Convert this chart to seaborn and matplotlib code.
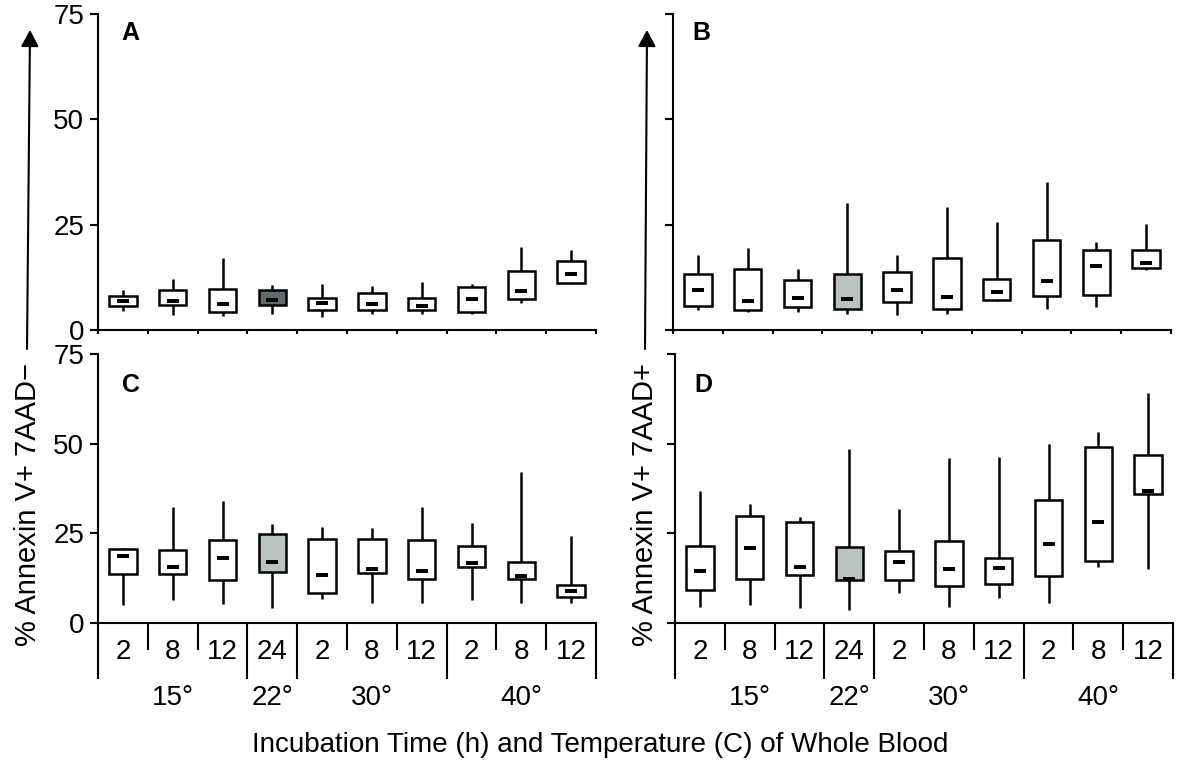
import numpy as np
import pandas as pd
import matplotlib
matplotlib.use("Agg")
import matplotlib.pyplot as plt
from matplotlib.patches import FancyArrowPatch
import seaborn as sns

# ------------------------------
# Data
# ------------------------------

hours = ["2", "8", "12", "24", "2", "8", "12", "2", "8", "12"]
temps = ["15°", "22°", "30°", "40°"]
temp_pos = [1, 3, 5, 8]          # centre category of each temperature group
long_bounds = [-0.5, 2.5, 3.5, 6.5, 9.5]
short_bounds = [0.5, 1.5, 4.5, 5.5, 7.5, 8.5]
conds = ["15/2", "15/8", "15/12", "22/24", "30/2", "30/8", "30/12", "40/2", "40/8", "40/12"]

# panel A
A_low = [4.6, 3.6, 3.3, 3.9, 3.0, 3.9, 3.8, 3.9, 6.3, 10.9]
A_q1 = [5.7, 5.9, 4.3, 5.9, 4.7, 4.7, 4.7, 4.3, 7.4, 11.2]
A_med = [6.9, 6.9, 6.2, 7.2, 6.3, 6.2, 5.7, 7.3, 9.2, 13.4]
A_q3 = [8.1, 9.5, 9.8, 9.5, 7.5, 8.9, 7.7, 10.1, 14.1, 16.3]
A_high = [9.6, 12.2, 17.2, 10.6, 10.9, 10.4, 11.4, 11.0, 19.7, 18.9]

# panel B
B_low = [4.7, 4.3, 4.3, 3.9, 3.6, 3.8, 6.8, 5.1, 5.5, 14.2]
B_q1 = [5.8, 4.7, 5.4, 5.0, 6.7, 5.0, 7.2, 8.1, 8.3, 14.6]
B_med = [9.6, 6.9, 7.7, 7.3, 9.5, 7.8, 9.0, 11.7, 15.2, 15.9]
B_q3 = [13.3, 14.4, 11.8, 13.3, 13.7, 17.1, 12.2, 21.3, 19.1, 19.1]
B_high = [17.8, 19.4, 14.4, 30.2, 17.8, 29.2, 25.6, 35.2, 21.0, 25.1]

# panel C
C_low = [5.0, 6.3, 5.3, 4.1, 6.7, 5.6, 5.7, 6.5, 5.7, 5.7]
C_q1 = [13.6, 13.6, 11.9, 14.3, 8.5, 13.9, 12.4, 15.7, 12.2, 7.3]
C_med = [18.7, 15.6, 18.1, 17.1, 13.4, 15.0, 14.5, 16.6, 13.0, 8.8]
C_q3 = [20.6, 20.4, 23.1, 24.7, 23.3, 23.5, 23.1, 21.4, 16.9, 10.7]
C_high = [21.0, 32.4, 34.1, 27.7, 26.9, 26.5, 32.4, 28.0, 42.1, 24.3]

# panel D
D_low = [4.6, 5.1, 4.2, 3.7, 8.3, 4.4, 6.9, 5.6, 15.5, 15.0]
D_q1 = [9.3, 12.2, 13.4, 11.9, 11.9, 10.4, 11.0, 13.1, 17.4, 36.1]
D_med = [14.5, 20.9, 15.6, 12.3, 16.9, 15.0, 15.3, 21.9, 28.1, 36.9]
D_q3 = [21.5, 29.9, 28.2, 21.1, 20.0, 23.0, 18.0, 34.4, 49.1, 46.9]
D_high = [36.9, 33.3, 29.6, 48.6, 31.9, 46.0, 46.4, 49.8, 53.3, 64.2]

panels = {
    "A": (A_low, A_q1, A_med, A_q3, A_high),
    "B": (B_low, B_q1, B_med, B_q3, B_high),
    "C": (C_low, C_q1, C_med, C_q3, C_high),
    "D": (D_low, D_q1, D_med, D_q3, D_high),
}

dark_grey = "#5f6c6c"
light_grey = "#b9c4c2"

# ------------------------------
# Style
# ------------------------------

sns.set_style("ticks")
plt.rcParams["font.family"] = ["Liberation Sans", "DejaVu Sans"]
plt.rcParams["axes.linewidth"] = 1.5
plt.rcParams["axes.edgecolor"] = "black"
plt.rcParams["text.color"] = "black"
plt.rcParams["xtick.color"] = "black"
plt.rcParams["ytick.color"] = "black"
plt.rcParams["xtick.labelcolor"] = "black"
plt.rcParams["ytick.labelcolor"] = "black"

fig = plt.figure(figsize=(12, 7.71), dpi=100)

W, H = 1200, 771
pos = {
    "A": (98, 14, 596, 330),
    "B": (673, 14, 1171, 330),
    "C": (98, 354, 596, 623),
    "D": (675, 354, 1173, 623),
}

# rectangular marker for the median bars
median_marker = [(-1, -0.36), (1, -0.36), (1, 0.36), (-1, 0.36), (-1, -0.36)]

for name, (low, q1, med, q3, high) in panels.items():
    x0, y0, x1, y1 = pos[name]
    ax = fig.add_axes([x0 / W, 1 - y1 / H, (x1 - x0) / W, (y1 - y0) / H])

    # five numbers per condition -> quartiles with whis=(0,100) reproduce the box
    rows = []
    for i, c in enumerate(conds):
        for v in (low[i], q1[i], med[i], q3[i], high[i]):
            rows.append({"cond": c, "val": v})
    df = pd.DataFrame(rows)

    grey = dark_grey if name == "A" else light_grey
    pal = {c: (grey if i == 3 else "white") for i, c in enumerate(conds)}

    sns.boxplot(data=df, x="cond", y="val", hue="cond", palette=pal, legend=False,
                order=conds, whis=(0, 100), width=0.55, linecolor="black",
                linewidth=1.8, showcaps=False, saturation=1,
                medianprops={"visible": False}, ax=ax)

    sns.stripplot(x=conds, y=med, order=conds, jitter=False, color="black",
                  marker=median_marker, size=8.6, linewidth=0, ax=ax, zorder=5)

    ax.set_xlim(-0.5, 9.5)
    ax.set_ylim(0, 75)
    ax.set_yticks([0, 25, 50, 75])
    ax.set_xlabel("")
    ax.set_ylabel("")
    sns.despine(ax=ax)
    ax.spines["left"].set_bounds(0, 75)
    ax.tick_params(axis="y", length=6, width=1.5, pad=4, labelsize=20, color="black")

    if name in ("B", "D"):
        ax.set_yticklabels([])

    if name in ("A", "B"):
        ax.set_xticks(np.arange(-0.5, 10, 1))
        ax.set_xticklabels([])
        ax.tick_params(axis="x", length=3, width=1.5, color="black")
    else:
        ax.set_xticks(long_bounds)
        ax.set_xticks(short_bounds, minor=True)
        ax.set_xticklabels([])
        ax.tick_params(axis="x", which="major", length=40, width=1.5, color="black")
        ax.tick_params(axis="x", which="minor", length=19.5, width=1.5, color="black",
                       bottom=True)
        tr = ax.get_xaxis_transform()
        for i, h in enumerate(hours):
            ax.text(i, -0.108, h, transform=tr, ha="center", va="center", fontsize=20)
        for p, t in zip(temp_pos, temps):
            ax.text(p, -0.279, t, transform=tr, ha="center", va="center", fontsize=20)

    lx = 0.066 if name in ("A", "C") else 0.056
    ly = 0.94 if name in ("A", "B") else 0.885
    ax.text(lx, ly, name, transform=ax.transAxes, ha="center", va="center",
            fontsize=18, fontweight="bold")

# y labels with the arrows above them
fig.text(28 / W, 1 - 505 / H, "% Annexin V+ 7AAD\u2212", rotation=90,
         ha="center", va="center", fontsize=21)
fig.text(645 / W, 1 - 505 / H, "% Annexin V+ 7AAD+", rotation=90,
         ha="center", va="center", fontsize=21)

for (xa, ya), (xb, yb) in [((27, 349), (30, 30)), ((645, 349), (647, 30))]:
    arr = FancyArrowPatch((xa / W, 1 - ya / H), (xb / W, 1 - yb / H),
                          transform=fig.transFigure,
                          arrowstyle="-|>,head_length=0.5,head_width=0.27",
                          mutation_scale=20, linewidth=1.5, color="black",
                          shrinkA=0, shrinkB=0)
    fig.add_artist(arr)

fig.text(0.5, 1 - 745 / H, "Incubation Time (h) and Temperature (C) of Whole Blood",
         ha="center", va="center", fontsize=20)

fig.savefig("out.png", dpi=100)
